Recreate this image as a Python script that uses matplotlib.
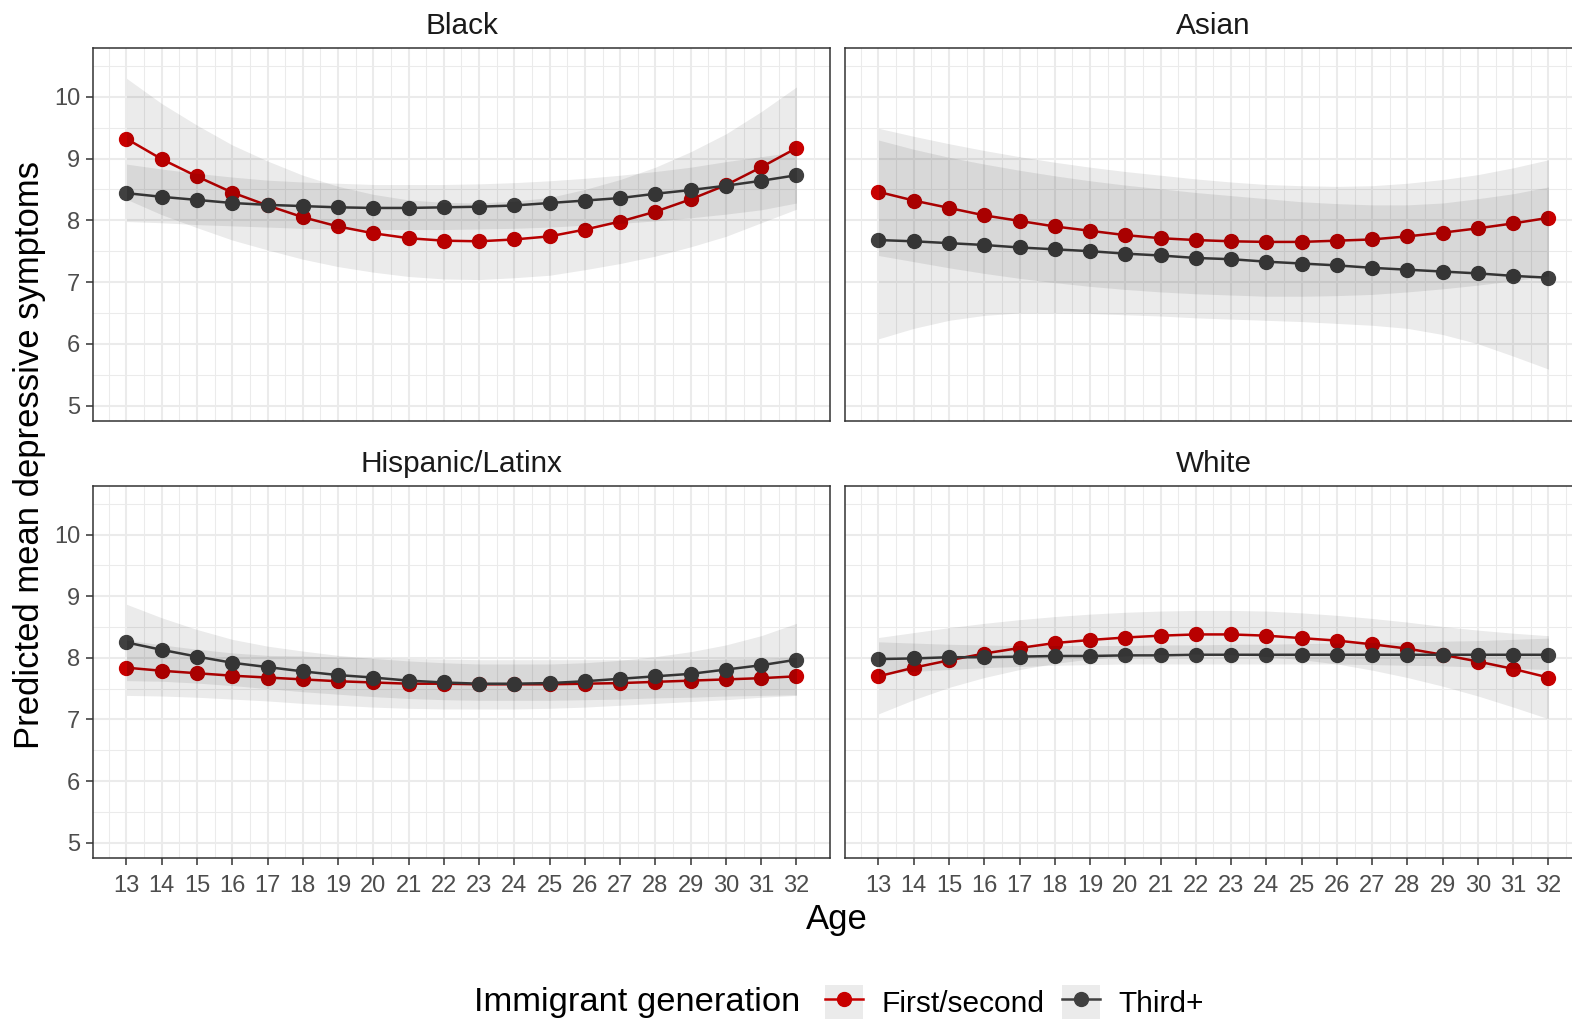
import numpy as np
import matplotlib
matplotlib.use("Agg")
import matplotlib.pyplot as plt
from matplotlib.patches import Patch
from matplotlib.lines import Line2D

plt.rcParams['font.family'] = ['Liberation Sans', 'DejaVu Sans']

ages = list(range(13, 33))
panels = ["Black", "Asian", "Hispanic/Latinx", "White"]
groups = ["First/second", "Third+"]

# predicted means, one list per panel and generation
black_first = [9.32, 8.99, 8.71, 8.45, 8.24, 8.05, 7.90, 7.79, 7.71, 7.67,
               7.66, 7.69, 7.74, 7.85, 7.98, 8.14, 8.34, 8.57, 8.86, 9.17]
black_third = [8.44, 8.38, 8.33, 8.28, 8.25, 8.23, 8.21, 8.20, 8.20, 8.21,
               8.22, 8.24, 8.28, 8.32, 8.36, 8.43, 8.49, 8.56, 8.64, 8.73]
asian_first = [8.46, 8.32, 8.20, 8.08, 7.99, 7.90, 7.83, 7.76, 7.71, 7.68,
               7.66, 7.65, 7.65, 7.67, 7.69, 7.74, 7.80, 7.87, 7.95, 8.04]
asian_third = [7.68, 7.66, 7.63, 7.60, 7.56, 7.53, 7.50, 7.46, 7.43, 7.39,
               7.37, 7.33, 7.30, 7.27, 7.23, 7.20, 7.17, 7.14, 7.10, 7.07]
hisp_first = [7.84, 7.79, 7.75, 7.71, 7.68, 7.65, 7.62, 7.60, 7.58, 7.58,
              7.57, 7.57, 7.57, 7.58, 7.59, 7.61, 7.63, 7.65, 7.67, 7.70]
hisp_third = [8.25, 8.13, 8.02, 7.92, 7.85, 7.78, 7.72, 7.68, 7.63, 7.60,
              7.58, 7.58, 7.59, 7.62, 7.66, 7.70, 7.74, 7.81, 7.88, 7.97]
white_first = [7.70, 7.84, 7.96, 8.07, 8.16, 8.24, 8.29, 8.33, 8.36, 8.38,
               8.38, 8.36, 8.32, 8.28, 8.22, 8.15, 8.05, 7.94, 7.82, 7.68]
white_third = [7.98, 7.99, 8.01, 8.01, 8.02, 8.03, 8.03, 8.04, 8.04, 8.05,
               8.05, 8.05, 8.05, 8.05, 8.05, 8.05, 8.05, 8.05, 8.05, 8.05]

# confidence bands (lower / upper)
black_first_lo = [8.34, 8.09, 7.88, 7.68, 7.52, 7.37, 7.25, 7.16, 7.09, 7.05,
                  7.04, 7.07, 7.11, 7.20, 7.30, 7.42, 7.57, 7.74, 7.96, 8.18]
black_first_hi = [10.30, 9.89, 9.54, 9.22, 8.96, 8.73, 8.55, 8.42, 8.33, 8.29,
                  8.28, 8.31, 8.37, 8.50, 8.66, 8.86, 9.11, 9.40, 9.76, 10.16]
black_third_lo = [7.98, 7.96, 7.93, 7.91, 7.89, 7.87, 7.86, 7.85, 7.85, 7.85,
                  7.86, 7.87, 7.89, 7.92, 7.95, 7.99, 8.04, 8.10, 8.17, 8.28]
black_third_hi = [8.91, 8.83, 8.76, 8.70, 8.65, 8.62, 8.60, 8.58, 8.58, 8.58,
                  8.59, 8.61, 8.64, 8.68, 8.73, 8.79, 8.86, 8.95, 9.03, 9.11]
asian_first_lo = [7.43, 7.33, 7.23, 7.14, 7.06, 6.99, 6.93, 6.88, 6.84, 6.81,
                  6.79, 6.77, 6.77, 6.78, 6.80, 6.84, 6.89, 6.95, 7.02, 7.10]
asian_first_hi = [9.49, 9.36, 9.24, 9.13, 9.03, 8.94, 8.86, 8.79, 8.73, 8.67,
                  8.62, 8.58, 8.56, 8.55, 8.56, 8.60, 8.66, 8.74, 8.85, 8.98]
asian_third_lo = [6.08, 6.25, 6.38, 6.46, 6.50, 6.50, 6.49, 6.47, 6.45, 6.42,
                  6.40, 6.38, 6.36, 6.33, 6.30, 6.25, 6.15, 6.00, 5.80, 5.59]
asian_third_hi = [9.30, 9.15, 9.02, 8.91, 8.81, 8.72, 8.64, 8.57, 8.51, 8.45,
                  8.40, 8.35, 8.30, 8.27, 8.25, 8.25, 8.28, 8.35, 8.43, 8.54]
hisp_first_lo = [7.39, 7.38, 7.36, 7.33, 7.30, 7.26, 7.23, 7.20, 7.18, 7.17,
                 7.17, 7.17, 7.18, 7.20, 7.23, 7.26, 7.29, 7.32, 7.36, 7.39]
hisp_first_hi = [8.29, 8.21, 8.14, 8.08, 8.04, 8.03, 8.01, 8.00, 7.99, 7.98,
                 7.97, 7.97, 7.97, 7.97, 7.97, 7.96, 7.97, 7.98, 7.99, 8.01]
hisp_third_lo = [7.63, 7.62, 7.59, 7.55, 7.50, 7.45, 7.41, 7.37, 7.34, 7.32,
                 7.31, 7.31, 7.31, 7.32, 7.33, 7.35, 7.36, 7.38, 7.39, 7.40]
hisp_third_hi = [8.87, 8.65, 8.46, 8.30, 8.19, 8.11, 8.04, 7.99, 7.95, 7.92,
                 7.90, 7.90, 7.90, 7.92, 7.96, 8.02, 8.10, 8.21, 8.36, 8.56]
white_first_lo = [7.09, 7.32, 7.52, 7.68, 7.81, 7.91, 7.98, 8.03, 8.05, 8.06,
                  8.05, 8.02, 7.97, 7.90, 7.80, 7.68, 7.54, 7.38, 7.20, 7.01]
white_first_hi = [8.33, 8.41, 8.49, 8.56, 8.62, 8.67, 8.71, 8.74, 8.76, 8.77,
                  8.77, 8.76, 8.73, 8.69, 8.64, 8.58, 8.51, 8.45, 8.40, 8.36]
white_third_lo = [7.74, 7.78, 7.81, 7.84, 7.86, 7.88, 7.89, 7.90, 7.90, 7.90,
                  7.90, 7.90, 7.90, 7.90, 7.89, 7.88, 7.87, 7.85, 7.83, 7.81]
white_third_hi = [8.26, 8.24, 8.22, 8.21, 8.20, 8.20, 8.20, 8.20, 8.21, 8.21,
                  8.22, 8.22, 8.23, 8.24, 8.25, 8.26, 8.27, 8.28, 8.30, 8.32]

first_vals = [black_first, asian_first, hisp_first, white_first]
third_vals = [black_third, asian_third, hisp_third, white_third]
first_lo = [black_first_lo, asian_first_lo, hisp_first_lo, white_first_lo]
first_hi = [black_first_hi, asian_first_hi, hisp_first_hi, white_first_hi]
third_lo = [black_third_lo, asian_third_lo, hisp_third_lo, white_third_lo]
third_hi = [black_third_hi, asian_third_hi, hisp_third_hi, white_third_hi]

RED = "#C80000"
DARK = "#404040"
GRID = "#EBEBEB"
EDGE = "#333333"

W, H = 1572, 1021


def px_axes(fig, x0, y0, w, h):
    return fig.add_axes([x0 / W, 1 - (y0 + h) / H, w / W, h / H])


def main():
    fig = plt.figure(figsize=(W / 100, H / 100), dpi=100)
    boxes = [(93, 48, 737, 373), (845, 48, 737, 373),
             (93, 486, 737, 372), (845, 486, 737, 372)]

    for i, name in enumerate(panels):
        ax = px_axes(fig, *boxes[i])
        ax.set_xlim(12.05, 32.95)
        ax.set_ylim(4.75, 10.79)
        ax.set_xticks(ages)
        ax.set_xticks(np.arange(12.5, 33, 1), minor=True)
        ax.set_yticks(range(5, 11))
        ax.set_yticks(np.arange(5.5, 11, 1), minor=True)
        ax.grid(which='major', color=GRID, linewidth=1.45, zorder=0)
        ax.grid(which='minor', color=GRID, linewidth=0.75, zorder=0)
        ax.set_axisbelow(True)
        for s in ax.spines.values():
            s.set_color(EDGE)
            s.set_linewidth(1.1)
        ax.tick_params(which='major', length=5, width=1.1, color=EDGE,
                       labelsize=17, labelcolor="#4D4D4D", pad=4)
        ax.tick_params(axis='x', pad=7)
        ax.tick_params(which='minor', length=0)

        ax.plot(ages, first_vals[i], color=RED, lw=1.8, marker='o', ms=10, zorder=2)
        ax.plot(ages, third_vals[i], color=DARK, lw=1.8, marker='o', ms=10, zorder=2)
        ax.fill_between(ages, first_lo[i], first_hi[i], color='black', alpha=0.08,
                        linewidth=0, zorder=3)
        ax.fill_between(ages, third_lo[i], third_hi[i], color='black', alpha=0.08,
                        linewidth=0, zorder=3)

        if i % 2 == 1:
            ax.tick_params(axis='y', left=False, labelleft=False)
        if i < 2:
            ax.tick_params(axis='x', bottom=False, labelbottom=False)

        ax.text(0.5, 1 + 22 / boxes[i][3], name, transform=ax.transAxes,
                ha='center', va='center', fontsize=21.4, color="#1A1A1A")

    fig.text(30 / W, 1 - 455 / H, "Predicted mean depressive symptoms",
             rotation=90, ha='center', va='center', fontsize=24.9)
    fig.text(837 / W, 1 - 919 / H, "Age", ha='center', va='center', fontsize=24.9)

    fig.text(800 / W, 1 - 1002 / H, "Immigrant generation",
             ha='right', va='center', fontsize=24.8)
    handles = []
    for c in [RED, DARK]:
        handles.append((Patch(facecolor=GRID, edgecolor='none'),
                        Line2D([], [], color=c, lw=1.8, marker='o', ms=10)))
    fig.legend(handles, groups, loc='center left',
               bbox_to_anchor=(825 / W, 1 - 1002 / H), ncol=2, frameon=False,
               fontsize=21.5, handlelength=1.28, handleheight=1.33,
               handletextpad=0.6, columnspacing=0.6, borderpad=0,
               borderaxespad=0)

    fig.savefig("out.png", dpi=100)


if __name__ == "__main__":
    main()
